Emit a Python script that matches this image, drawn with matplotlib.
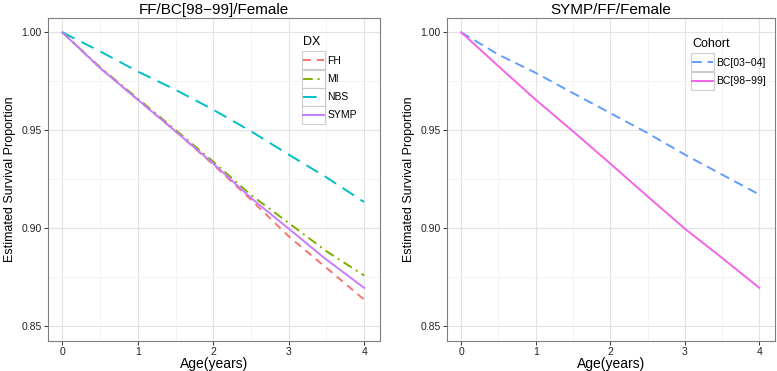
import matplotlib
matplotlib.use("Agg")
import matplotlib.pyplot as plt
from matplotlib.ticker import MultipleLocator
from matplotlib.patches import Rectangle

plt.rcParams['font.family'] = ['Liberation Sans', 'DejaVu Sans']

age = [0, 0.5, 1, 1.5, 2, 2.5, 3, 3.5, 4]

# left panel: FF/BC[98-99]/Female by DX
fh = [1.0, 0.9818, 0.9656, 0.9495, 0.9325, 0.9146, 0.8959, 0.8798, 0.8636]
mi = [1.0, 0.9822, 0.9662, 0.9502, 0.9340, 0.9170, 0.9027, 0.8883, 0.8759]
nbs = [1.0, 0.9903, 0.9800, 0.9707, 0.9605, 0.9495, 0.9376, 0.9260, 0.9134]
symp = [1.0, 0.9818, 0.9656, 0.9495, 0.9330, 0.9155, 0.8998, 0.8840, 0.8696]

# right panel: SYMP/FF/Female by cohort
bc0304 = [1.0, 0.9886, 0.9793, 0.9690, 0.9588, 0.9486, 0.9376, 0.9274, 0.9172]
bc9899 = [1.0, 0.9827, 0.9656, 0.9495, 0.9330, 0.9163, 0.8998, 0.8849, 0.8696]

W, H = 777, 371
fig = plt.figure(figsize=(W/100, H/100), dpi=100)
ax1 = fig.add_axes([48/W, 30/H, 332/W, 323/H])
ax2 = fig.add_axes([447/W, 30/H, 328/W, 323/H])


def style(ax, title):
    ax.set_xlim(-0.19, 4.21)
    ax.set_ylim(0.8425, 1.0073)
    ax.xaxis.set_major_locator(MultipleLocator(1))
    ax.xaxis.set_minor_locator(MultipleLocator(0.5))
    ax.yaxis.set_minor_locator(MultipleLocator(0.025))
    ax.set_yticks([0.85, 0.90, 0.95, 1.00])
    ax.set_yticklabels(["0.85", "0.90", "0.95", "1.00"])
    ax.grid(which="major", color="#e3e3e3", lw=0.8)
    ax.grid(which="minor", color="#f2f2f2", lw=0.6)
    ax.set_axisbelow(True)
    for s in ax.spines.values():
        s.set_color("#7f7f7f")
        s.set_linewidth(0.8)
    ax.tick_params(which="major", length=3, width=0.7, color="#333333",
                   labelsize=7.5, labelcolor="#222222", pad=1.5)
    ax.tick_params(which="minor", length=0)
    ax.set_title(title, fontsize=11, pad=3)
    ax.set_xlabel("Age(years)", fontsize=10, labelpad=0)
    ax.set_ylabel("Estimated Survival Proportion", fontsize=9, labelpad=4)


ax1.plot(age, fh, color="#F8766D", lw=1.4, ls=(0, (4, 3)), label="FH")
ax1.plot(age, mi, color="#7CAE00", lw=1.4, ls=(0, (5, 2.5, 1, 2.5)), label="MI")
ax1.plot(age, nbs, color="#00BFC4", lw=1.4, ls=(0, (7, 4)), label="NBS")
ax1.plot(age, symp, color="#C77CFF", lw=1.4, label="SYMP")
style(ax1, "FF/BC[98\u221299]/Female")

ax2.plot(age, bc0304, color="#619CFF", lw=1.4, ls=(0, (5, 3)), label="BC[03\u221204]")
ax2.plot(age, bc9899, color="#F564E3", lw=1.4, label="BC[98\u221299]")
style(ax2, "SYMP/FF/Female")

legs = []
for ax, name, anchor in [(ax1, "DX", (303/W, 1 - 36/H)),
                         (ax2, "Cohort", (692/W, 1 - 38/H))]:
    leg = ax.legend(title=name, loc="upper left", bbox_to_anchor=anchor,
                    bbox_transform=fig.transFigure, frameon=False,
                    fontsize=7.5, title_fontsize=9, handlelength=2.0,
                    handletextpad=0.35, labelspacing=0.78, borderaxespad=0,
                    borderpad=0, alignment="left")
    leg.set_zorder(6)
    legs.append((ax, leg))

# ggplot-style grey key boxes behind the legend handles
fig.canvas.draw()
for ax, leg in legs:
    for h in leg.legend_handles:
        bb = h.get_window_extent()
        cy = (bb.y0 + bb.y1) / 2
        ax.add_patch(Rectangle((bb.x0 - 1, cy - 9), bb.width + 2, 18,
                               transform=None, facecolor="white",
                               edgecolor="#cccccc", lw=0.8, zorder=5,
                               clip_on=False))

fig.savefig("out.png", dpi=100)
